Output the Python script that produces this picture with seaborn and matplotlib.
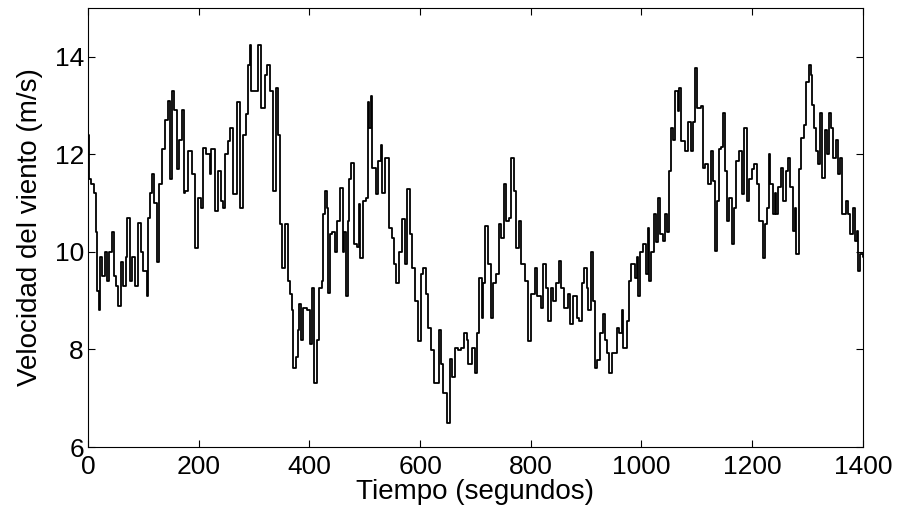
import pandas as pd
import matplotlib
matplotlib.use('Agg')
import matplotlib.pyplot as plt
import seaborn as sns

# velocidad del viento (tiempo en s, velocidad en m/s)
tiempo = [0, 2, 5, 10, 14, 17, 19, 22, 26, 30, 34, 38, 43, 47, 51, 55, 60, 64, 68, 71,
          75, 80, 85, 91, 95, 100, 106, 108, 112, 115, 119, 124, 128, 134, 139, 145, 148, 151, 155, 160,
          165, 169, 173, 175, 181, 187, 193, 199, 205, 208, 214, 220, 223, 229, 235, 241, 244, 247, 253, 256,
          262, 269, 274, 280, 286, 289, 292, 295, 304, 308, 313, 319, 323, 328, 334, 340, 343, 346, 350, 356,
          361, 362, 365, 368, 371, 375, 379, 382, 385, 389, 395, 401, 404, 409, 413, 417, 422, 425, 428, 431,
          434, 437, 440, 446, 449, 455, 461, 463, 466, 469, 472, 476, 481, 486, 489, 492, 496, 502, 505, 508,
          511, 514, 517, 520, 524, 529, 532, 536, 543, 549, 553, 556, 561, 567, 572, 576, 582, 586, 590, 596,
          601, 606, 610, 614, 620, 626, 634, 638, 642, 649, 654, 658, 663, 668, 674, 680, 684, 687, 693, 699,
          702, 706, 711, 714, 718, 723, 729, 732, 738, 743, 747, 752, 756, 760, 765, 770, 774, 778, 783, 789,
          795, 800, 807, 812, 819, 823, 828, 831, 836, 840, 846, 851, 855, 860, 862, 868, 871, 877, 883, 888,
          892, 896, 901, 904, 908, 912, 916, 920, 925, 930, 934, 938, 942, 946, 952, 955, 959, 964, 967, 973,
          977, 982, 988, 992, 994, 997, 1002, 1008, 1012, 1014, 1018, 1023, 1027, 1030, 1033, 1039, 1043, 1047, 1049, 1053,
          1057, 1061, 1066, 1068, 1072, 1078, 1084, 1089, 1093, 1097, 1101, 1107, 1111, 1115, 1120, 1125, 1129, 1133, 1137, 1140,
          1144, 1147, 1151, 1155, 1159, 1163, 1167, 1171, 1177, 1181, 1186, 1191, 1195, 1200, 1204, 1208, 1213, 1219, 1223, 1226,
          1230, 1233, 1238, 1241, 1244, 1247, 1252, 1256, 1261, 1265, 1269, 1274, 1278, 1279, 1285, 1289, 1293, 1298, 1303, 1306,
          1309, 1311, 1315, 1319, 1323, 1327, 1331, 1335, 1339, 1343, 1346, 1351, 1355, 1359, 1363, 1369, 1373, 1376, 1382, 1385,
          1389, 1391, 1395, 1400]

velocidad = [12.4, 11.5, 11.4, 11.2, 10.4, 9.2, 8.8, 9.9, 9.5, 10.0, 9.4, 10.0, 10.4, 9.5, 9.3, 8.9, 9.8, 9.3, 9.9, 10.7,
             9.4, 9.9, 9.3, 10.6, 10.0, 9.6, 9.1, 10.7, 11.2, 11.6, 11.0, 9.8, 11.4, 12.1, 12.7, 13.1, 11.5, 13.3, 12.9, 11.7,
             12.3, 12.9, 11.2, 11.24, 12.06, 11.6, 10.08, 11.1, 10.9, 12.12, 12.0, 11.6, 12.1, 10.84, 11.65, 11.04, 10.9, 12.0, 12.27, 12.53,
             11.18, 13.08, 10.9, 12.4, 12.82, 13.84, 14.24, 13.29, 13.3, 14.24, 12.94, 13.63, 13.84, 13.3, 11.24, 13.35, 12.4, 10.57, 9.67, 10.57,
             10.37, 9.4, 9.14, 8.8, 7.63, 7.84, 8.39, 8.94, 8.2, 8.84, 8.8, 8.12, 9.27, 7.31, 8.2, 9.27, 9.4, 10.78, 11.24, 10.9,
             9.16, 10.37, 10.4, 10.0, 10.63, 11.3, 10.0, 10.4, 9.1, 10.63, 11.5, 11.82, 10.16, 10.1, 10.98, 9.88, 11.04, 11.1, 13.08, 12.53,
             13.2, 11.71, 11.71, 11.18, 11.86, 12.2, 11.2, 11.92, 10.49, 10.29, 9.76, 9.37, 10.0, 10.67, 9.76, 11.28, 10.37, 9.67, 9.0, 8.18,
             9.55, 9.67, 9.14, 8.45, 7.98, 7.31, 8.39, 7.71, 7.1, 6.49, 7.8, 7.43, 8.04, 7.98, 8.04, 8.33, 8.2, 7.71, 8.04, 7.51,
             8.33, 9.47, 8.65, 9.37, 10.53, 9.76, 8.65, 9.37, 9.55, 10.57, 10.29, 11.39, 10.63, 10.7, 11.92, 11.24, 10.08, 10.63, 9.76, 9.4,
             8.18, 9.14, 9.67, 9.1, 8.86, 9.76, 9.27, 8.59, 9.27, 9.0, 9.37, 9.82, 9.27, 8.86, 8.86, 9.14, 8.53, 9.1, 8.65, 8.59,
             9.37, 9.67, 9.27, 8.8, 10.0, 9.0, 7.63, 7.78, 8.33, 8.73, 8.2, 7.92, 7.51, 7.92, 7.92, 8.45, 8.33, 8.8, 8.04, 8.59,
             9.4, 9.76, 9.47, 9.9, 9.1, 10.0, 10.16, 9.55, 10.49, 9.4, 10.0, 10.78, 10.2, 11.1, 10.37, 10.22, 10.78, 10.4, 11.65, 12.53,
             12.3, 13.29, 12.88, 13.35, 12.27, 12.06, 12.67, 12.06, 12.67, 13.76, 12.94, 13.0, 11.71, 11.8, 11.39, 12.06, 11.45, 10.02, 11.04, 12.1,
             12.15, 12.84, 11.65, 10.63, 11.1, 10.16, 10.9, 11.86, 12.06, 11.18, 12.53, 11.04, 11.5, 11.7, 11.8, 11.4, 10.63, 9.88, 10.57, 10.9,
             12.0, 11.4, 10.78, 11.2, 10.78, 11.33, 11.71, 11.04, 11.65, 11.92, 11.33, 10.43, 10.9, 9.96, 11.7, 12.33, 12.61, 13.49, 13.84, 13.63,
             13.02, 12.53, 12.06, 11.8, 12.84, 11.51, 12.5, 12.0, 12.84, 12.53, 11.92, 12.3, 11.59, 11.92, 10.78, 11.04, 10.78, 10.37, 10.9, 10.22,
             10.43, 9.61, 9.96, 9.9]

x_ticks = [0, 200, 400, 600, 800, 1000, 1200, 1400]
y_ticks = [6, 8, 10, 12, 14]

df = pd.DataFrame({'t': tiempo, 'v': velocidad})

sns.set_style('ticks')
plt.rcParams['font.family'] = ['Liberation Sans', 'DejaVu Sans']
plt.rcParams['text.color'] = 'black'
plt.rcParams['axes.labelcolor'] = 'black'

fig = plt.figure(figsize=(9.03, 5.18), dpi=100)
ax = fig.add_axes([0.0975, 0.137, 0.858, 0.8476])

sns.lineplot(data=df, x='t', y='v', ax=ax, color='black', linewidth=1.3,
             drawstyle='steps-post', estimator=None, sort=False)

ax.set_xlim(0, 1400)
ax.set_ylim(6, 15)
ax.set_xticks(x_ticks)
ax.set_yticks(y_ticks)
ax.tick_params(direction='in', top=True, right=True, length=5, width=0.8,
               labelsize=19, colors='black')
ax.tick_params(axis='x', pad=6)
ax.tick_params(axis='y', pad=3)
for s in ax.spines.values():
    s.set_color('black')
    s.set_linewidth(0.8)
ax.set_xlabel('Tiempo (segundos)', fontsize=20, labelpad=0)
ax.set_ylabel('Velocidad del viento (m/s)', fontsize=20, labelpad=8)

fig.savefig('out.png', dpi=100)
